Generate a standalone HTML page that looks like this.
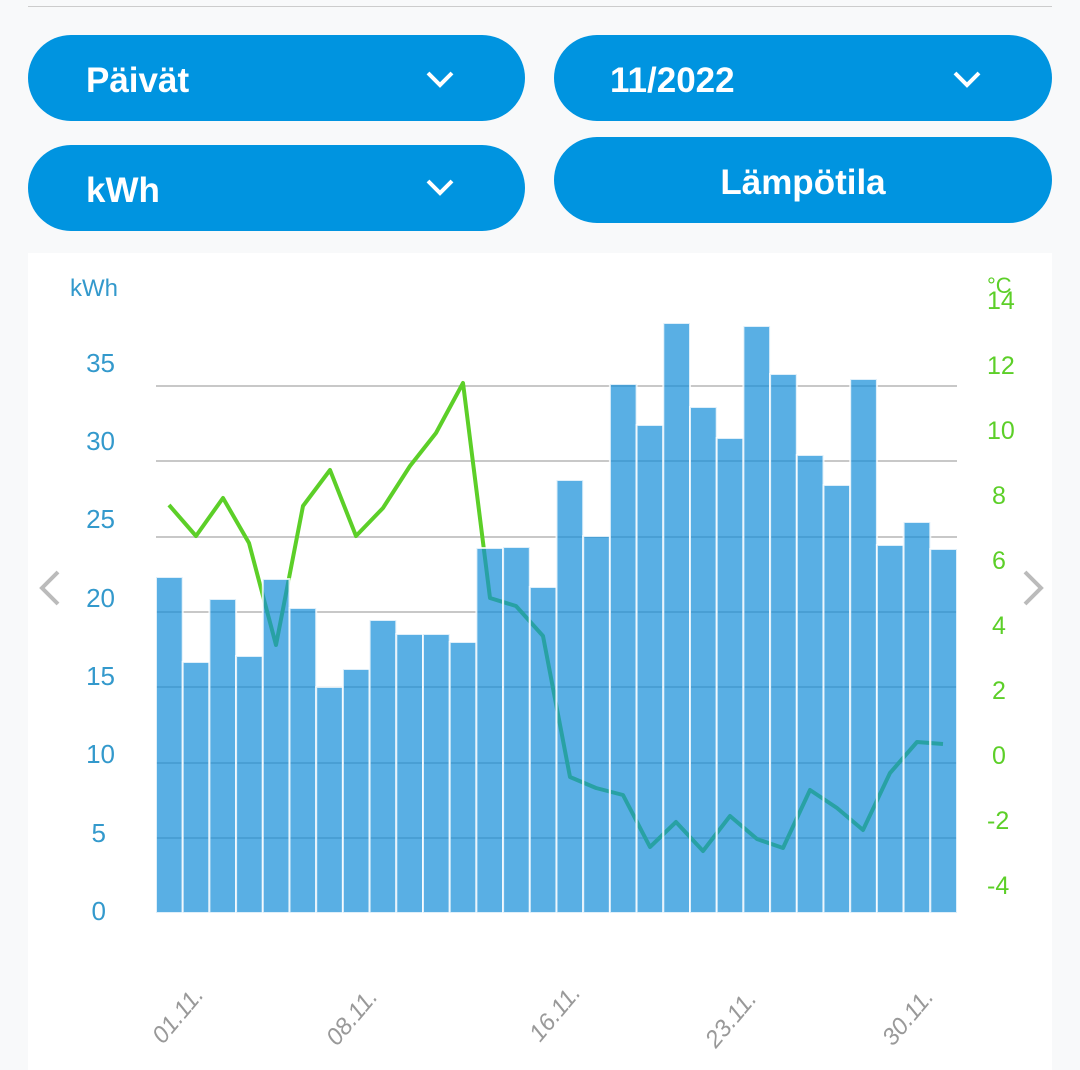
<!DOCTYPE html>
<html><head><meta charset="utf-8"><style>
body{margin:0;width:1080px;height:1070px;background:#f8f9fa;font-family:"Liberation Sans",sans-serif;position:relative;overflow:hidden}
.btn{position:absolute;background:#0094e0;color:#fff;font-weight:bold;font-size:35px;border-radius:43px;height:86px;line-height:92px;box-sizing:border-box}
.chev{position:absolute;right:70px;top:0}
</style></head><body>
<div style="position:absolute;left:28px;top:6px;width:1024px;height:1px;background:#ccc"></div>
<div class="btn" style="left:28px;top:35px;width:497px;padding-left:58px">Päivät<svg class="chev" width="30" height="86"><polyline points="3,38 15,50 27,38" fill="none" stroke="#fff" stroke-width="4"/></svg></div>
<div class="btn" style="left:554px;top:35px;width:498px;padding-left:56px">11/2022<svg class="chev" width="30" height="86"><polyline points="3,38 15,50 27,38" fill="none" stroke="#fff" stroke-width="4"/></svg></div>
<div class="btn" style="left:28px;top:145px;width:497px;padding-left:58px">kWh<svg class="chev" width="30" height="86"><polyline points="3,36 15,48 27,36" fill="none" stroke="#fff" stroke-width="4"/></svg></div>
<div class="btn" style="left:554px;top:137px;width:498px;text-align:center">Lämpötila</div>
<div style="position:absolute;left:28px;top:253px;width:1024px;height:817px;background:#fff"></div>
<svg style="position:absolute;left:0;top:0" width="1080" height="1070" font-family="Liberation Sans, sans-serif">
<g stroke="#c8c8c8" stroke-width="2">
<line x1="156" x2="957" y1="386" y2="386"/><line x1="156" x2="957" y1="461" y2="461"/><line x1="156" x2="957" y1="537" y2="537"/><line x1="156" x2="957" y1="612" y2="612"/><line x1="156" x2="957" y1="687" y2="687"/><line x1="156" x2="957" y1="763" y2="763"/><line x1="156" x2="957" y1="838" y2="838"/>
</g>
<polyline fill="none" stroke="#5ccf28" stroke-width="4" stroke-linejoin="round" points="169,505 196,536 223,498 249,543 276,645 303,506 330,470 356,536 383,508 410,466 436,433 463,383 490,598 516,606 543,636 570,777 596,788 623,795 650,847 676,822 703,851 730,816 757,839 783,848 810,790 837,808 863,830 890,773 917,742 943,744"/>
<g fill="#138dd8" fill-opacity="0.7" stroke="#fff" stroke-width="2" stroke-opacity="0.8" id="bars"></g>
<g font-size="26" fill="#3399cc" text-anchor="end">
<text x="115" y="372">35</text><text x="115" y="450">30</text><text x="115" y="528">25</text><text x="115" y="607">20</text><text x="115" y="685">15</text><text x="115" y="763">10</text><text x="106" y="842">5</text><text x="106" y="920">0</text>
</g>
<text x="70" y="296" font-size="24" fill="#3399cc">kWh</text>
<g font-size="25" fill="#5ccf28">
<text x="987" y="293" font-size="22">°C</text>
<text x="987" y="309">14</text><text x="987" y="374">12</text><text x="987" y="439">10</text><text x="992" y="504">8</text><text x="992" y="569">6</text><text x="992" y="634">4</text><text x="992" y="699">2</text><text x="992" y="764">0</text><text x="987" y="829">-2</text><text x="987" y="894">-4</text>
</g>
<g font-size="24" fill="#999" font-style="italic">
<text transform="translate(163,1045) rotate(-50)">01.11.</text>
<text transform="translate(337,1047) rotate(-50)">08.11.</text>
<text transform="translate(540,1043) rotate(-50)">16.11.</text>
<text transform="translate(716,1049) rotate(-50)">23.11.</text>
<text transform="translate(893,1047) rotate(-50)">30.11.</text>
</g>
<polyline points="58,572 42,588 58,604" fill="none" stroke="#bbb" stroke-width="4"/>
<polyline points="1025,572 1041,588 1025,604" fill="none" stroke="#bbb" stroke-width="4"/>
</svg>
<script>
var t=[577,662,599,656,579,608,687,669,620,634,634,642,548,547,587,480,536,384,425,323,407,438,326,374,455,485,379,545,522,549];
var g=document.getElementById('bars'),s='';
for(var i=0;i<30;i++){var x=156+i*26.7;s+='<rect x="'+x.toFixed(1)+'" y="'+t[i]+'" width="26.7" height="'+(913-t[i])+'"/>';}
g.innerHTML=s;
</script>
</body></html>
